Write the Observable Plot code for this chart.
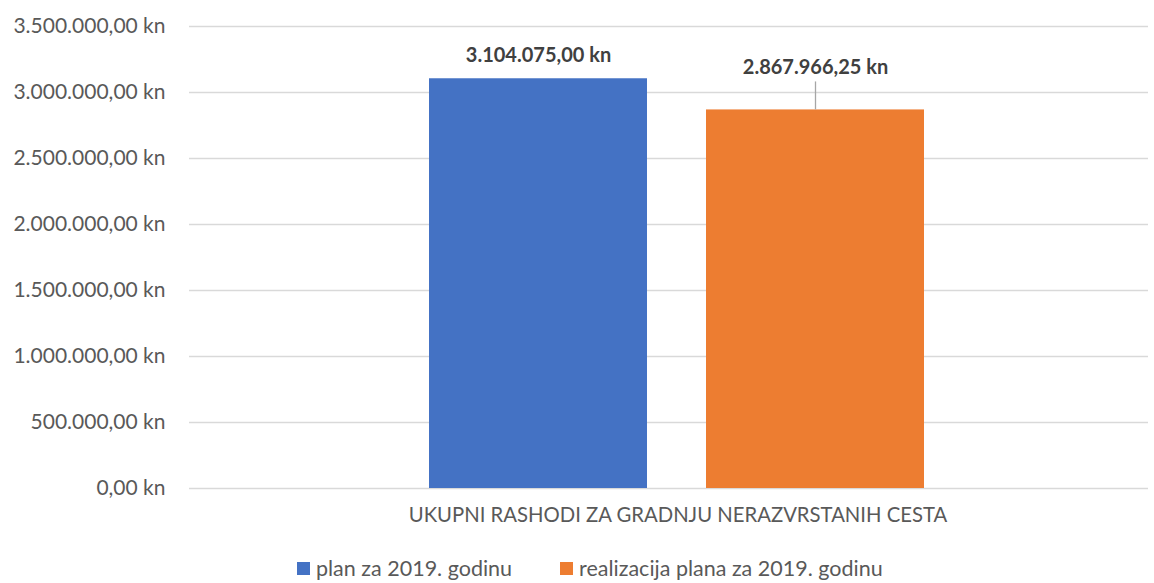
<!DOCTYPE html>
<html>
<head>
<meta charset="utf-8">
<script src="https://cdn.jsdelivr.net/npm/d3@7"></script>
<script src="https://cdn.jsdelivr.net/npm/@observablehq/plot@0.6"></script>
<style>
  html, body { margin: 0; padding: 0; background: #fff; }
  body { width: 1154px; height: 583px; overflow: hidden; font-family: Lato, "Open Sans", sans-serif; position: relative; }
  #legend { position: absolute; left: 297px; top: 556px; display: flex; font-size: 21.5px; color: #595959; line-height: 24px; white-space: nowrap; }
  .item { display: flex; align-items: center; }
  .sw { width: 13px; height: 13px; margin-right: 6px; display: inline-block; }
</style>
</head>
<body>
<div id="chart"></div>
<div id="legend"></div>
<script>
const category = "UKUPNI RASHODI ZA GRADNJU NERAZVRSTANIH CESTA";
const series = ["plan za 2019. godinu", "realizacija plana za 2019. godinu"];
const values = [3104075.00, 2867966.25];
const colors = ["#4472C4", "#ED7D31"];
const yTicks = [0, 500000, 1000000, 1500000, 2000000, 2500000, 3000000, 3500000];

const fmt = v => {
  const s = v.toFixed(2).split(".");
  const int = s[0].replace(/\B(?=(\d{3})+(?!\d))/g, ".");
  return int + "," + s[1] + " kn";
};

const data = series.map((s, i) => ({series: s, value: values[i]}));

const chart = Plot.plot({
  width: 1154,
  height: 548,
  marginLeft: 189,
  marginRight: 6,
  marginTop: 26,
  marginBottom: 60,
  style: {fontFamily: "Lato, 'Open Sans', sans-serif", fontSize: "21px", color: "#595959", background: "#fff"},
  x: {domain: series, range: [428, 925], paddingInner: 0.212, paddingOuter: 0, axis: null},
  y: {domain: [0, 3500000], ticks: yTicks, tickFormat: fmt, label: null, tickSize: 0, tickPadding: 24, grid: false},
  color: {domain: series, range: colors},
  marks: [
    Plot.ruleY(yTicks, {stroke: "#d9d9d9", strokeWidth: 1.3}),
    Plot.barY(data, {x: "series", y: "value", fill: "series"}),
    Plot.ruleX(data.filter((d, i) => i === 1), {x: "series", y1: "value", y2: "value", insetTop: -28, stroke: "#a6a6a6", strokeWidth: 1.3}),
    Plot.text(data.filter((d, i) => i === 0), {x: "series", y: "value", text: d => fmt(d.value), dy: -23, fontWeight: "bold", fontSize: 20, fill: "#404040"}),
    Plot.text(data.filter((d, i) => i === 1), {x: "series", y: "value", text: d => fmt(d.value), dy: -42, fontWeight: "bold", fontSize: 20, fill: "#404040"}),
    Plot.text([category], {frameAnchor: "bottom", dx: 9, dy: 33, text: d => d, fontSize: 20.3, fill: "#595959"})
  ]
});
document.getElementById("chart").appendChild(chart);

const legend = document.getElementById("legend");
const gaps = [48, 0];
series.forEach((s, i) => {
  const it = document.createElement("div");
  it.className = "item";
  it.style.marginRight = gaps[i] + "px";
  it.innerHTML = `<span class="sw" style="background:${colors[i]}"></span><span>${s}</span>`;
  legend.appendChild(it);
});
</script>
</body>
</html>
